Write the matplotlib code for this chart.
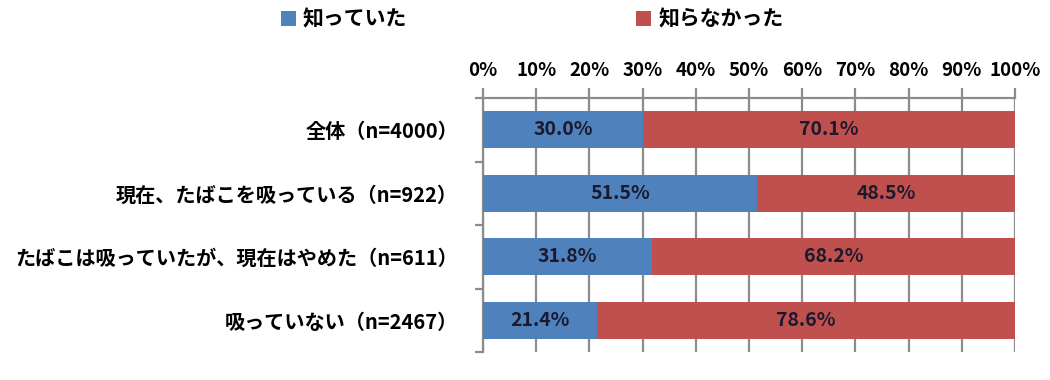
import matplotlib
matplotlib.use("Agg")
import matplotlib.pyplot as plt
from matplotlib.patches import Patch

plt.rcParams['font.family'] = ['Noto Sans CJK JP', 'DejaVu Sans']

categories = ["全体（n=4000）", "現在、たばこを吸っている（n=922）",
              "たばこは吸っていたが、現在はやめた（n=611）", "吸っていない（n=2467）"]
knew = [30.0, 51.5, 31.8, 21.4]
didnt = [70.1, 48.5, 68.2, 78.6]
series_names = ["知っていた", "知らなかった"]
xticks = [0, 10, 20, 30, 40, 50, 60, 70, 80, 90, 100]
xtick_labels = [f"{v}%" for v in xticks]

blue = "#4F81BD"
red = "#C0504D"
grid_c = "#8C8C8C"

fig = plt.figure(figsize=(10.5, 3.8), dpi=100)
ax = fig.add_axes([483/1050, 1-352/380, (1015-483)/1050, (352-98)/380])

ypos = list(range(len(categories)))
ax.barh(ypos, knew, height=0.58, color=blue, zorder=3)
ax.barh(ypos, didnt, left=knew, height=0.58, color=red, zorder=3)

for y, a, b in zip(ypos, knew, didnt):
    ax.text(a/2, y, f"{a:.1f}%", ha="center", va="center", fontsize=14,
            fontweight="bold", color="#1A1A2E", zorder=4)
    ax.text(a + b/2, y, f"{b:.1f}%", ha="center", va="center", fontsize=14,
            fontweight="bold", color="#1A1A2E", zorder=4)

ax.set_xlim(0, 100)
ax.set_ylim(len(categories)-0.5, -0.5)
ax.xaxis.tick_top()
ax.set_xticks(xticks)
ax.set_xticklabels(xtick_labels, fontsize=13.5, fontweight="bold")
ax.tick_params(axis="x", direction="out", length=7, width=1.6, color=grid_c, pad=6)
ax.set_yticks(ypos)
ax.set_yticklabels(categories, fontsize=14.5, fontweight="bold")
ax.tick_params(axis="y", length=0, pad=18)
ax.set_yticks([i + 0.5 for i in range(-1, len(categories))], minor=True)
ax.tick_params(axis="y", which="minor", direction="out", length=6, width=1.6, color=grid_c)

ax.grid(axis="x", color=grid_c, linewidth=1.6, zorder=0)
for s in ["bottom", "right"]:
    ax.spines[s].set_visible(False)
for s in ["top", "left"]:
    ax.spines[s].set_color(grid_c)
    ax.spines[s].set_linewidth(1.6)

handles = [Patch(facecolor=blue), Patch(facecolor=red)]
fig.legend(handles, series_names, loc="center left", bbox_to_anchor=(281/1050, 1-19/380),
           ncol=2, frameon=False, prop={"size": 15, "weight": "bold"}, borderpad=0,
           borderaxespad=0,
           handlelength=0.7, handleheight=0.7, handletextpad=0.35, columnspacing=11)

fig.savefig("out.png", dpi=100)
